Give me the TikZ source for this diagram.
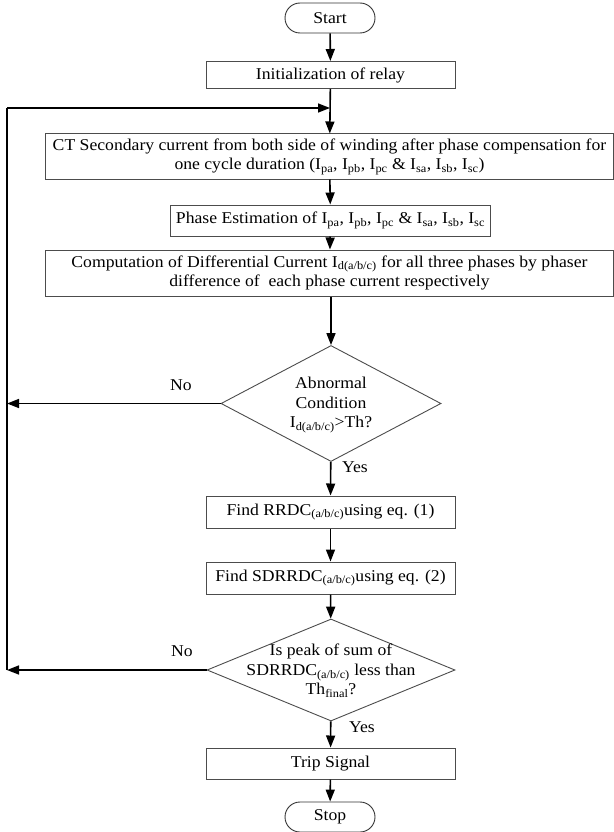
\documentclass[tikz,border=0pt]{standalone}
\usepackage{fontspec}
\setmainfont[FakeStretch=1.07]{Liberation Serif}
\usetikzlibrary{shapes.geometric,arrows.meta}
\begin{document}
\begin{tikzpicture}[x=1pt,y=1pt,
  font=\fontsize{16.5}{19.5}\selectfont,
  box/.style={draw=black!70,line width=1pt,rectangle,inner sep=2pt,align=center},
  term/.style={draw=black!80,line width=0.9pt,rounded corners=15pt,minimum width=90pt,minimum height=30pt},
  dia/.style={draw=black!70,line width=0.9pt,diamond,inner sep=0pt},
  arr/.style={line width=1.6pt,-{Triangle[length=12pt,width=9pt]}},
  ln/.style={line width=1.6pt},
  lbl/.style={inner sep=0pt}]
\useasboundingbox (0,0) rectangle (613,-832);
\node[term] (start) at (330,-18) {Start};
\node[box,minimum width=568pt,minimum height=45pt] (ct) at (329.5,-156.5) {CT Secondary current from both side of winding after phase compensation for\\one cycle duration (I\textsubscript{pa}, I\textsubscript{pb}, I\textsubscript{pc} \& I\textsubscript{sa}, I\textsubscript{sb}, I\textsubscript{sc})};
\node[box,minimum width=249pt,minimum height=27pt] (init) at (330.5,-75) {Initialization of relay};
\node[box,minimum width=320pt,minimum height=31pt] (pe) at (330.5,-220.5) {Phase Estimation of I\textsubscript{pa}, I\textsubscript{pb}, I\textsubscript{pc} \& I\textsubscript{sa}, I\textsubscript{sb}, I\textsubscript{sc}};
\node[box,minimum width=568pt,minimum height=46pt] (cd) at (329.5,-273) {Computation of Differential Current I\textsubscript{d(a/b/c)} for all three phases by phaser\\difference of\ \ each phase current respectively};
\node[dia,minimum width=220pt,minimum height=116pt] (d1) at (331,-403.5) {};
\node[align=center] (d1t) at (331,-405) {Abnormal\\Condition\\I\textsubscript{d(a/b/c)}>Th?};
\node[box,minimum width=249pt,minimum height=32pt] (rr) at (330.5,-512) {Find RRDC\textsubscript{(a/b/c)}using eq. (1)};
\node[box,minimum width=249pt,minimum height=32pt] (sd) at (330.5,-578) {Find SDRRDC\textsubscript{(a/b/c)}using eq. (2)};
\node[dia,minimum width=248pt,minimum height=102pt] (d2) at (331,-670) {};
\node[align=center] (d2t) at (331,-671) {Is peak of sum of\\SDRRDC\textsubscript{(a/b/c)} less than\\Th\textsubscript{final}?};
\node[box,minimum width=249pt,minimum height=31pt] (trip) at (330.5,-763.5) {Trip Signal};
\node[term] (stop) at (330,-817) {Stop};
\coordinate (j) at (330,-108);
\coordinate (l0) at (7,-108);
\coordinate (l1) at (7,-403.5);
\coordinate (l2) at (7,-670);
\node[lbl] (no1) at (181,-385) {No};
\node[lbl] (no2) at (182,-651.5) {No};
\node[lbl] (yes1) at (355,-467) {Yes};
\node[lbl] (yes2) at (362,-727) {Yes};
\draw[arr] (start) -- (init);
\draw[arr] (init) -- (ct);
\draw[arr] (ct) -- (pe);
\draw[arr] (pe) -- (cd);
\draw[arr] (cd.south -| d1.north) -- (d1.north);
\draw[arr] (d1) -- (rr);
\draw[arr] (rr) -- (sd);
\draw[arr] (sd) -- (d2);
\draw[arr] (d2) -- (trip);
\draw[arr] (trip) -- (stop);
\draw[arr] (d1.west) -- (l1);
\draw[arr] (d2.west) -- (l2);
\draw[ln] (l2) -- (l0);
\draw[arr] (l0) -- (j);
\end{tikzpicture}
\end{document}
